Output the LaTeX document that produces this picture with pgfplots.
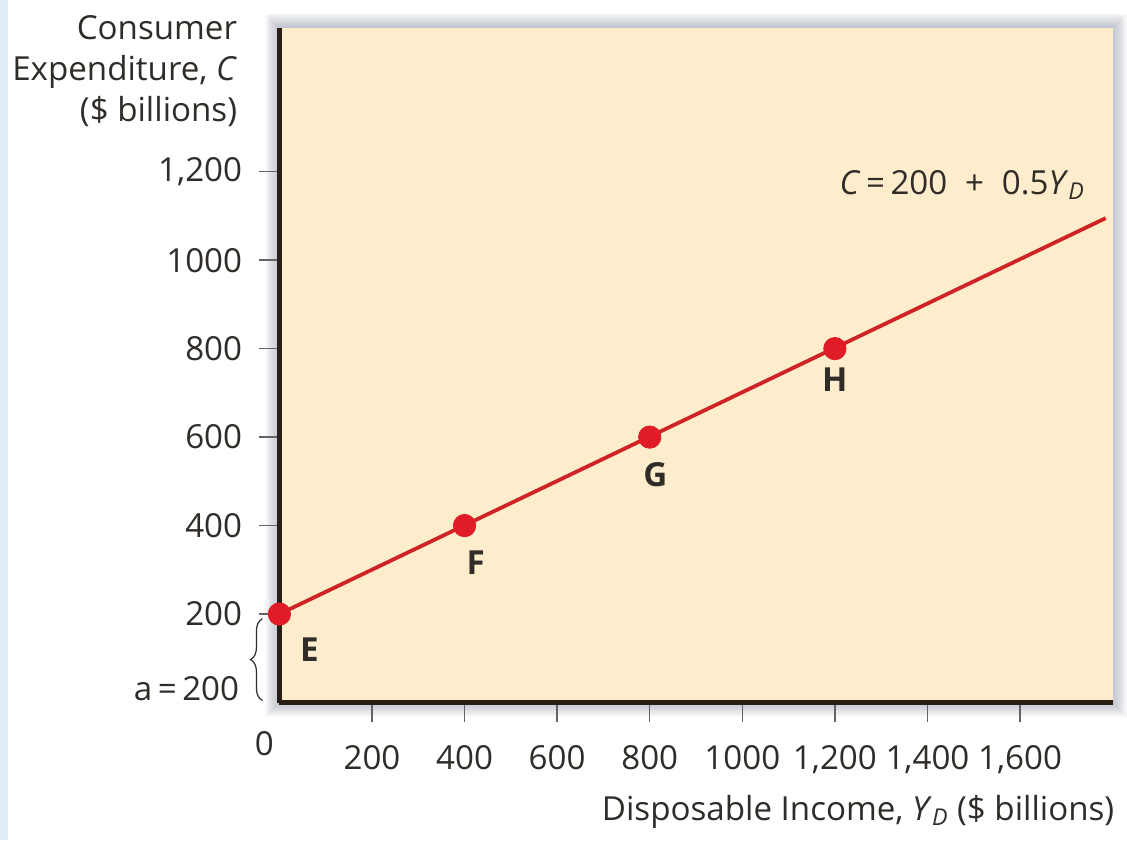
\documentclass[border=0pt]{standalone}
\usepackage{pgfplots}
\pgfplotsset{compat=1.18}
\usepackage{fontspec}
\setmainfont{Open Sans}
\usetikzlibrary{decorations.pathreplacing}

\definecolor{peach}{RGB}{254,237,204}
\definecolor{linered}{RGB}{206,36,38}
\definecolor{dotred}{RGB}{224,28,38}
\definecolor{ink}{RGB}{48,44,40}
\definecolor{axisdark}{RGB}{40,30,22}
\definecolor{tickgray}{RGB}{100,100,100}
\definecolor{paleblue}{RGB}{226,237,247}
\definecolor{shadowc}{RGB}{90,100,125}

\begin{document}
\fontsize{16.6}{20.5}\selectfont
\begin{tikzpicture}
% 1 px of the reference = 0.5pt; axis box lower left sits at (0,0)
\fill[white] (-140pt,-69pt) rectangle (423.5pt,352pt);
\fill[paleblue] (-140pt,-69pt) rectangle (-136pt,352pt);
% soft shadow round the plot area
\foreach \i in {1,...,8} {
  \fill[shadowc, opacity=0.05] (-\i*0.9pt,-\i*0.9pt) rectangle (417.5pt+\i*0.9pt,338pt+\i*0.9pt);
}
\begin{axis}[
  at={(0,0)}, anchor=south west,
  scale only axis, width=417.5pt, height=338pt,
  xmin=0, xmax=1800, ymin=0, ymax=1525,
  clip=false,
  axis x line*=bottom, axis y line*=left,
  axis line style={line width=2.6pt, axisdark, -},
  axis background/.style={fill=peach},
  xtick={200,400,600,800,1000,1200,1400,1600},
  xticklabels={200,400,600,800,1000,{1,200},{1,400},{1,600}},
  ytick={200,400,600,800,1000,1200},
  yticklabels={200,400,600,800,1000,{1,200}},
  tick align=outside,
  major tick length=10pt,
  tick style={line width=0.7pt, tickgray},
  /pgf/number format/assume math mode=true,
  ticklabel style={text=ink, font=\fontsize{16.6}{20.5}\selectfont},
  xticklabel style={anchor=base, inner sep=0pt, yshift=-23.5pt},
  yticklabel style={anchor=east, inner sep=0pt, xshift=-8.5pt},
]
\addplot[linered, line width=1.9pt] coordinates {(0,200) (1785,1095)};
\addplot[only marks, mark=*, mark size=5.6pt, mark options={fill=dotred, draw=dotred}]
  coordinates {(0,200) (400,400) (800,600) (1200,800)};

\node[text=ink, font=\bfseries] at (axis cs:65,119) {E};
\node[text=ink, font=\bfseries] at (axis cs:424,315) {F};
\node[text=ink, font=\bfseries] at (axis cs:812,514) {G};
\node[text=ink, font=\bfseries] at (axis cs:1200,730) {H};

\node[text=ink, anchor=base east, inner sep=0pt] at (axis cs:1741,1149)
  {\textit{C}\,=\,200\; + \;0.5\textit{Y}\textsubscript{\textit{D}}};

\node[text=ink, anchor=north east, align=right, inner sep=0pt]
  at ([xshift=-21pt,yshift=6.5pt]rel axis cs:0,1)
  {Consumer\\Expenditure, \textit{C}\\(\$ billions)};

\node[text=ink, anchor=base east, inner sep=0pt]
  at ([xshift=1pt,yshift=-59pt]rel axis cs:1,0)
  {Disposable Income, \textit{Y}\textsubscript{\textit{D}} (\$ billions)};

\node[text=ink, inner sep=0pt] at ([xshift=-7.5pt,yshift=-20.5pt]axis cs:0,0) {0};
\node[text=ink, anchor=east, inner sep=0pt] at ([xshift=-20pt,yshift=7pt]axis cs:0,0) {a\,=\,200};
\draw[ink, line width=0.6pt, decorate, decoration={brace, amplitude=6pt}]
  ([xshift=-8.5pt,yshift=1pt]axis cs:0,0) -- ([xshift=-8.5pt,yshift=42pt]axis cs:0,0);
\end{axis}
\end{tikzpicture}
\end{document}
